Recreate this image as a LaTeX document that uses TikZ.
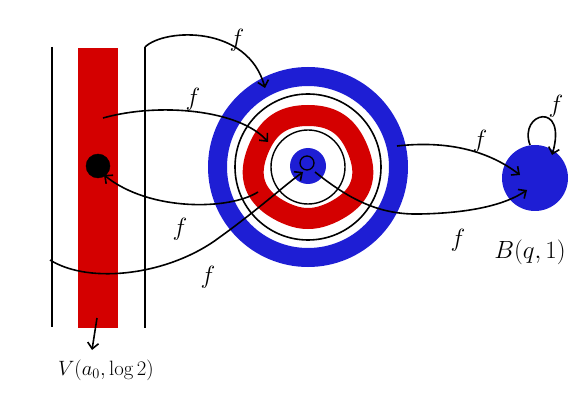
\documentclass[tikz,border=0pt]{standalone}
\usetikzlibrary{arrows.meta,calc}
\definecolor{tblue}{RGB}{30,30,212}
\definecolor{tred}{RGB}{212,0,0}
\tikzset{
  conn/.style={line width=1.6pt,-{Straight Barb[length=6pt,width=11pt]}},
  plain/.style={line width=1.6pt},
  flab/.style={font=\fontsize{28}{30}\selectfont},
}
\begin{document}
\begin{tikzpicture}[x=1pt,y=-1pt]
\useasboundingbox (0,0) rectangle (581,406);
% left strip
\fill[tred] (78,48) rectangle (118,328);
\draw[plain] (52,47) -- (52,327);
\coordinate (rtop) at (145,47);
\draw[plain] (rtop) -- (145,328);
\node[circle,fill=black,draw=black,minimum size=24pt,inner sep=0pt] (dot) at (98,166) {};
% target
\coordinate (T) at (308,167);
\fill[tblue,even odd rule] (T) circle (100) (T) circle (81);
\draw[plain] (T) circle (73);
\draw[tred,line width=21pt,shift={(308,167)}] plot[domain=0:355,samples=72,smooth cycle]
  (\x:{53+0.8*sin(3*\x)+1.5*cos(2*\x)+0.8*sin(5*\x)});
\draw[line width=1.4pt] (T) circle (37);
\node[circle,fill=tblue,minimum size=36pt,inner sep=0pt] (C) at (308,166) {};
\node[circle,draw=black,line width=1.3pt,minimum size=14pt,inner sep=0pt] (L) at (307,163) {};
% right ball
\node[circle,fill=tblue,minimum size=66pt,inner sep=0pt] (B) at (535,178) {};
% endpoints
\coordinate (a1) at (265,88);
\coordinate (s2) at (103,118);
\coordinate (a2) at (268,142);
\coordinate (s3) at (258,192);
\coordinate (a3) at (104,175);
\coordinate (s4) at (50,260);
\coordinate (a4) at (303,172);
\coordinate (s5) at (397,146);
\coordinate (a5) at (520,175);
\coordinate (s6) at (315,172);
\coordinate (a6) at (527,190);
\coordinate (s7) at (530,145);
\coordinate (a7) at (552,155);
\coordinate (s8) at (97,318);
\coordinate (a8) at (92,350);
% connectors
\draw[conn] (rtop) .. controls (165,28) and (248,25) .. (a1);
\draw[conn] (s2) .. controls (160,102) and (240,110) .. (a2);
\draw[conn] (s3) .. controls (230,210) and (150,212) .. (a3);
\draw[conn] (s4) .. controls (90,285) and (170,275) .. (220,237) .. controls (255,212) and (285,185) .. (a4);
\draw[conn] (s5) .. controls (450,140) and (490,152) .. (a5);
\draw[conn] (s6) .. controls (350,200) and (380,215) .. (420,214) .. controls (470,213) and (505,205) .. (a6);
\draw[conn] (s7) .. controls (518,112) and (568,100) .. (a7);
\draw[conn] (s8) -- (a8);
% labels
\node[flab] at (237,40) {$f$};
\node[flab] at (193,99) {$f$};
\node[flab] at (180,229) {$f$};
\node[flab] at (208,277) {$f$};
\node[flab] at (480,141) {$f$};
\node[flab] at (458,240) {$f$};
\node[flab] at (556,106) {$f$};
\node[font=\fontsize{30}{32}\selectfont] at (530,252) {$B(q,1)$};
\node[font=\fontsize{20}{22}\selectfont] at (106,370) {$V(a_0,\log 2)$};
\end{tikzpicture}
\end{document}
